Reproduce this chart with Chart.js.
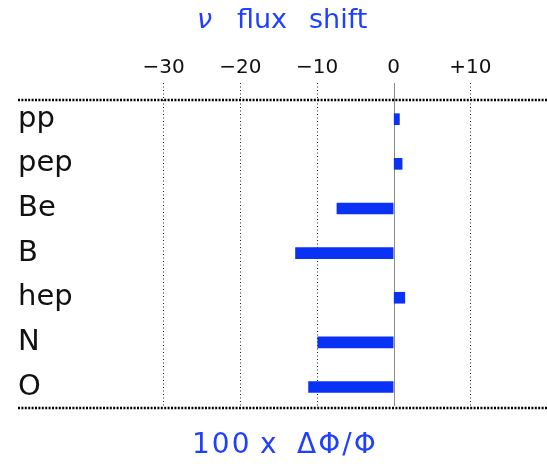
<!DOCTYPE html>
<html>
<head>
<meta charset="utf-8">
<script src="https://cdn.jsdelivr.net/npm/chart.js@4/dist/chart.umd.min.js"></script>
<style>
  html, body { margin: 0; padding: 0; background: #fff; }
  #wrap { width: 547px; height: 464px; }
</style>
</head>
<body>
<div id="wrap"><canvas id="c" width="547" height="464"></canvas></div>
<script>
// Neutrino sources and their flux change, in percent (100 x ΔΦ/Φ)
const sources = ['pp', 'pep', 'Be', 'B', 'hep', 'N', 'O'];
const fluxShift = [0.75, 1.1, -7.4, -12.8, 1.45, -9.9, -11.1];
const tickValues = [-30, -20, -10, 0, 10];
const tickLabels = ['\u221230', '\u221220', '\u221210', '0', '+10'];

const BLUE = 'rgb(32,64,255)';
const FONT = '"DejaVu Sans", sans-serif';

// Heavy dotted frame lines, solid zero line and the two captions
const decor = {
  id: 'decor',
  beforeDatasetsDraw(chart) {
    const { ctx, chartArea: a, scales } = chart;
    const x0 = Math.round(scales.x.getPixelForValue(0));
    ctx.save();
    ctx.strokeStyle = '#8a8a8a';
    ctx.lineWidth = 1;
    ctx.beginPath();
    ctx.moveTo(x0 + 0.5, a.top - 17);
    ctx.lineTo(x0 + 0.5, a.bottom - 2);
    ctx.stroke();
    ctx.restore();
  },
  afterDraw(chart) {
    const { ctx, chartArea: a } = chart;
    ctx.save();
    ctx.strokeStyle = '#000';
    ctx.lineWidth = 2.6;
    ctx.setLineDash([2, 1.4]);
    [a.top, a.bottom].forEach(y => {
      ctx.beginPath();
      ctx.moveTo(a.left, y);
      ctx.lineTo(a.right, y);
      ctx.stroke();
    });
    ctx.setLineDash([]);

    ctx.fillStyle = BLUE;
    ctx.textBaseline = 'alphabetic';
    ctx.textAlign = 'left';
    // top caption: italic nu, then "flux" and "shift" with wide gaps
    ctx.font = 'italic 27px ' + FONT;
    ctx.fillText('\u03bd', 197, 28);
    ctx.font = '27px ' + FONT;
    ctx.fillText('flux', 237, 28);
    ctx.fillText('shift', 309, 28);

    // bottom caption
    ctx.font = '28px ' + FONT;
    ctx.letterSpacing = '2px';
    ctx.fillText('100', 192, 453);
    ctx.fillText('x', 260, 453);
    ctx.fillText('\u0394\u03a6/\u03a6', 297, 453);
    ctx.restore();
  }
};

new Chart(document.getElementById('c'), {
  type: 'bar',
  data: {
    datasets: [{
      data: fluxShift.map((v, i) => ({ x: v, y: i })),
      backgroundColor: 'rgb(10,50,245)',
      borderWidth: 0,
      barThickness: 11
    }]
  },
  options: {
    indexAxis: 'y',
    responsive: false,
    animation: false,
    layout: { padding: { left: 18, right: 0, top: 0, bottom: 56 } },
    plugins: {
      legend: { display: false },
      tooltip: { enabled: false },
      title: { display: false }
    },
    scales: {
      x: {
        type: 'linear',
        position: 'top',
        min: -49,
        max: 20,
        offset: false,
        afterBuildTicks(s) { s.ticks = tickValues.map(v => ({ value: v })); },
        afterFit(s) { s.height = 100; },
        border: { display: false, dash: [1, 2.5] },
        grid: {
          color: ctx => (ctx.tick && ctx.tick.value === 0) ? 'rgba(0,0,0,0)' : '#222',
          lineWidth: 1,
          tickLength: 17,
          tickBorderDash: [1, 2.5],
          drawOnChartArea: true
        },
        ticks: {
          color: '#111',
          font: { family: FONT, size: 20 },
          padding: 3,
          maxRotation: 0,
          callback: v => tickLabels[tickValues.indexOf(v)]
        }
      },
      y: {
        type: 'linear',
        position: 'left',
        reverse: true,
        offset: false,
        min: -0.43,
        max: 6.47,
        afterBuildTicks(s) { s.ticks = sources.map((_, i) => ({ value: i })); },
        afterFit(s) { s.width = 0; },
        border: { display: false },
        grid: { display: false },
        ticks: {
          mirror: true,
          padding: 0,
          color: '#111',
          font: { family: FONT, size: 29 },
          callback: v => sources[v]
        }
      }
    }
  },
  plugins: [decor]
});
</script>
</body>
</html>
